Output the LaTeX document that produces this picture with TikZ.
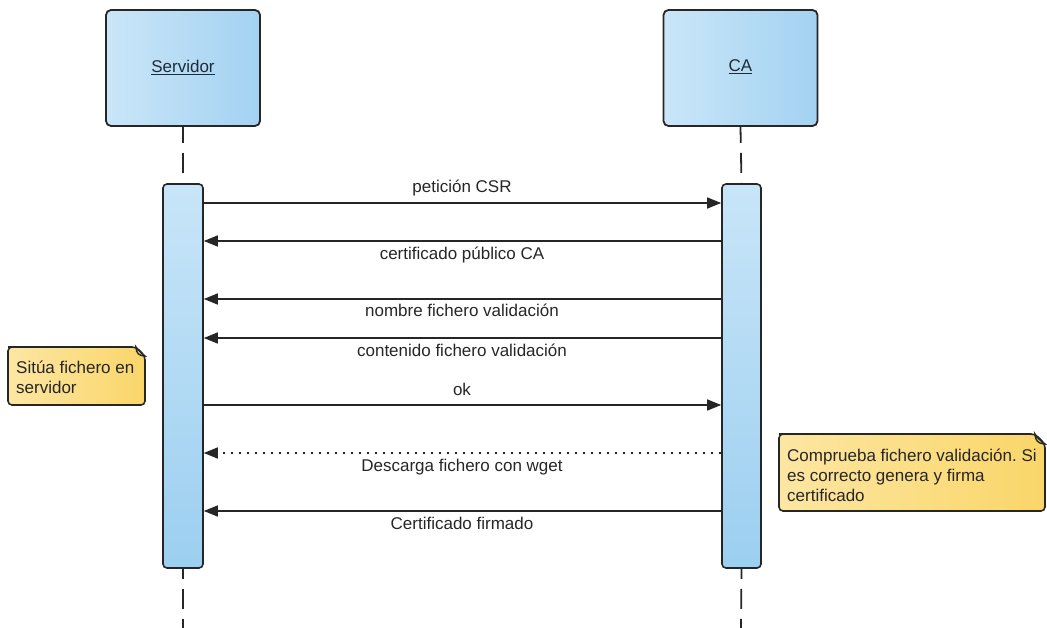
\documentclass[tikz,border=0pt]{standalone}
\usepackage{fontspec}
\setmainfont{Liberation Sans}
\usetikzlibrary{arrows.meta}
\definecolor{edge}{HTML}{262626}
\definecolor{boxl}{HTML}{CAE6F8}
\definecolor{boxr}{HTML}{A3D2F2}
\definecolor{barT}{HTML}{C8E5F8}
\definecolor{barB}{HTML}{9CCFF0}
\definecolor{notel}{HTML}{FCE6A2}
\definecolor{noter}{HTML}{FAD669}
\definecolor{actortext}{HTML}{1E2C3A}
\definecolor{lbltext}{HTML}{262626}
\tikzset{
  actor/.style={draw=edge, line width=1.8pt, rounded corners=5pt, left color=boxl, right color=boxr,
    minimum width=154pt, minimum height=116pt, inner sep=0pt},
  actortxt/.style={font=\fontsize{17}{20}\selectfont, text=actortext, inner sep=0pt, anchor=base},
  actbar/.style={draw=edge, line width=1.6pt, rounded corners=4pt, top color=barT, bottom color=barB,
    minimum height=384pt, inner sep=0pt},
  lifeline/.style={draw=edge, line width=1.8pt, dash pattern=on 20pt off 10pt},
  msg/.style={draw=edge, line width=1.4pt, -{Triangle[length=14pt,width=11pt]}},
  reply/.style={msg, dash pattern=on 1.8pt off 6.2pt},
  lbl/.style={font=\fontsize{17}{20}\selectfont, text=lbltext, inner sep=0pt, anchor=base},
  notebox/.style={draw=edge, line width=1.6pt, rounded corners=4pt, left color=notel, right color=noter},
  notefold/.style={draw=edge, line width=1.4pt, fill=noter!70!white},
  notetxt/.style={font=\fontsize{17}{20}\selectfont\frenchspacing, text=lbltext, inner sep=0pt, align=left, anchor=base west},
}
\begin{document}
\begin{tikzpicture}[x=1pt,y=-1pt]
\useasboundingbox (0,0) rectangle (1047,628);

% actors
\node[actor] (srv) at (183,68) {};
\node[actortxt] (srvt) at (183,73) {\underline{Servidor}};
\node[actor] (ca) at (740.5,68) {};
\node[actortxt] (cat) at (740.5,72) {\underline{CA}};

% activation bars
\node[actbar, minimum width=40pt] (srvact) at (183,376) {};
\node[actbar, minimum width=39pt] (caact) at (741.5,376) {};

% lifelines
\coordinate (srvend) at (183,628);
\coordinate (caend) at (741,628);
\draw[lifeline, dash phase=4pt] (srv.south) -- (srvact.north);
\draw[lifeline, dash phase=4pt] (ca.south) -- (caact.north);
\draw[lifeline, dash phase=10pt] (srvact.south) -- (srvend);
\draw[lifeline, dash phase=10pt] (caact.south) -- (caend);

% message rows
\coordinate (m1) at (0,203);
\coordinate (m2) at (0,241);
\coordinate (m3) at (0,299);
\coordinate (m4) at (0,338);
\coordinate (m5) at (0,405);
\coordinate (m6) at (0,453);
\coordinate (m7) at (0,511);

\draw[msg] (srvact.east |- m1) -- (caact.west |- m1);
\draw[msg] (caact.west |- m2) -- (srvact.east |- m2);
\draw[msg] (caact.west |- m3) -- (srvact.east |- m3);
\draw[msg] (caact.west |- m4) -- (srvact.east |- m4);
\draw[msg] (srvact.east |- m5) -- (caact.west |- m5);
\draw[reply] (caact.west |- m6) -- (srvact.east |- m6);
\draw[msg] (caact.west |- m7) -- (srvact.east |- m7);

\node[lbl] (l1) at (462,193) {petición CSR};
\node[lbl] (l2) at (462,260) {certificado público CA};
\node[lbl] (l3) at (462,317) {nombre fichero validación};
\node[lbl] (l4) at (462,356) {contenido fichero validación};
\node[lbl] (l5) at (462,395) {ok};
\node[lbl] (l6) at (462,471) {Descarga fichero con wget};
\node[lbl] (l7) at (462,529) {Certificado firmado};

% note 1
\path[notebox] (12,347) -- (136,347) -- (145,356) -- (145,405) -- (8,405) -- (8,347) -- cycle;
\draw[notefold] (136,347) .. controls (136,353) and (139,356) .. (145,356) .. controls (141,353) and (138,350) .. (136,347) -- cycle;
\node[notetxt] (n1) at (16,393) {Sitúa fichero en\\servidor};

% note 2
\path[notebox] (783,434) -- (1035,434) -- (1045,444) -- (1045,511) -- (779,511) -- (779,434) -- cycle;
\draw[notefold] (1035,434) .. controls (1035,440) and (1038,444) .. (1045,444) .. controls (1041,441) and (1037,438) .. (1035,434) -- cycle;
\node[notetxt] (n2) at (787,501) {Comprueba fichero validación. Si\\es correcto genera y firma\\certificado};
\end{tikzpicture}
\end{document}
